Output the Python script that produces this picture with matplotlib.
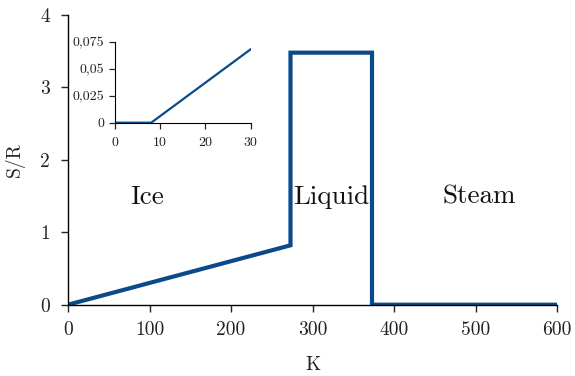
import matplotlib
matplotlib.use("Agg")
import matplotlib.pyplot as plt

plt.rcParams['font.family'] = ['cmr10', 'DejaVu Serif']
plt.rcParams['mathtext.fontset'] = 'cm'
plt.rcParams['axes.unicode_minus'] = False

# Main curve: entropy S/R vs temperature K
main_K = [0, 273, 273, 373, 373, 600]
main_S = [0, 0.82, 3.48, 3.48, 0, 0]
xticks = [0, 100, 200, 300, 400, 500, 600]
yticks = [0, 1, 2, 3, 4]

# Inset: low-temperature detail
inset_K = [0, 8, 30]
inset_S = [0, 0, 0.068]
inset_xticks = [0, 10, 20, 30]
inset_yticks = [0, 0.025, 0.05, 0.075]
inset_yticklabels = ["0", "0,025", "0,05", "0,075"]

phase_labels = ["Ice", "Liquid", "Steam"]
phase_x = [97, 323, 504]
phase_y = [1.49, 1.49, 1.49]

color = "#0a4a8a"
txt = "#222222"

fig = plt.figure(figsize=(5.75, 3.76), dpi=100)
ax = fig.add_axes([68/575, 1-304.7/376, 489/575, 289.7/376])
ax.plot(main_K, main_S, color=color, lw=3.0, solid_joinstyle='miter')
ax.set_xlim(0, 600)
ax.set_ylim(0, 4)
ax.set_xticks(xticks)
ax.set_yticks(yticks)
ax.set_xticklabels([str(v) for v in xticks])
ax.set_yticklabels([str(v) for v in yticks])
for s in ['top', 'right']:
    ax.spines[s].set_visible(False)
for s in ['left', 'bottom']:
    ax.spines[s].set_linewidth(1.0)
ax.tick_params(labelsize=14, colors=txt, length=5, width=1.0)
ax.tick_params(axis='y', pad=8)
ax.tick_params(axis='x', pad=7)
ax.set_xlabel("K", fontsize=14, color=txt, labelpad=12)
ax.set_ylabel("S/R", fontsize=14, color=txt, labelpad=11)
for lab, x, y in zip(phase_labels, phase_x, phase_y):
    ax.text(x, y, lab, fontsize=19.5, ha='center', va='center', color="#111111")

ins = fig.add_axes([115/575, 1-122.7/376, 135.7/575, 81/376])
ins.plot(inset_K, inset_S, color=color, lw=1.6)
ins.set_xlim(0, 30)
ins.set_ylim(0, 0.075)
ins.set_xticks(inset_xticks)
ins.set_yticks(inset_yticks)
ins.set_xticklabels([str(v) for v in inset_xticks])
ins.set_yticklabels(inset_yticklabels)
for s in ['top', 'right']:
    ins.spines[s].set_visible(False)
ins.tick_params(labelsize=10, colors=txt, length=4, width=0.9)
ins.tick_params(axis='x', pad=6)
ins.tick_params(axis='y', pad=4)
ins.patch.set_alpha(0)

fig.savefig("out.png", dpi=100)
